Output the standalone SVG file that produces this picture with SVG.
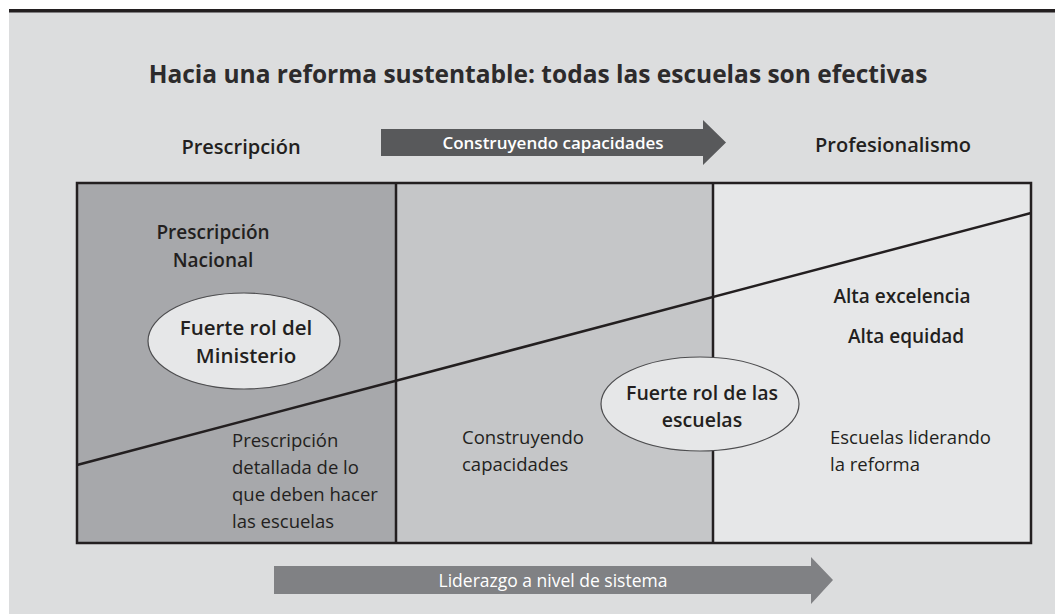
<svg xmlns="http://www.w3.org/2000/svg" width="1055" height="614" viewBox="0 0 1055 614">
<style>
text{font-family:"Open Sans","Liberation Sans",sans-serif;fill:#231f20}
.t{font-weight:700;font-size:24.5px;fill:#2d2b2c}
.h{font-weight:600;font-size:20px}
.n{font-weight:600;font-size:19px}
.e{font-weight:600;font-size:20.5px}
.r{font-size:18.5px}
.w{fill:#ffffff;font-weight:600;font-size:17px}
.ell{fill:#e6e7e8;stroke:#4d4d4f;stroke-width:1.2}
.line{stroke:#231f20;stroke-width:2.5;fill:none}
</style>
<rect x="0" y="0" width="1055" height="614" fill="#ffffff"/>
<rect x="9" y="12" width="1046" height="602" fill="#dcddde"/>
<rect x="9" y="9" width="1046" height="3.5" fill="#231f20"/>
<g id="title"><text class="t" x="538" y="83" text-anchor="middle">Hacia una reforma sustentable: todas las escuelas son efectivas</text></g>
<g id="header-left"><text class="h" x="241" y="154" text-anchor="middle">Prescripción</text></g>
<g id="header-right"><text class="h" x="893" y="152" text-anchor="middle">Profesionalismo</text></g>
<g id="panels">
<rect x="77" y="183" width="319" height="360" fill="#a7a8ab"/>
<rect x="396" y="183" width="317" height="360" fill="#c5c6c8"/>
<rect x="713" y="183" width="318" height="360" fill="#e6e7e8"/>
</g>
<g id="connectors">
<line class="line" x1="77" y1="465" x2="1031" y2="213"/>
<polygon points="381,129 703,129 703,120 726,142.5 703,165 703,156 381,156" fill="#58595b"/>
<polygon points="274,566 811,566 811,557 833,580 811,604 811,594 274,594" fill="#808184"/>
</g>
<g id="frame">
<rect class="line" x="77" y="183" width="954" height="360"/>
<line class="line" x1="396" y1="183" x2="396" y2="543"/>
<line class="line" x1="713" y1="183" x2="713" y2="543"/>
</g>
<g id="arrow-top-label"><text class="w" x="553" y="149" text-anchor="middle">Construyendo capacidades</text></g>
<g id="arrow-bottom-label"><text class="w" x="553" y="587" text-anchor="middle" style="font-weight:400;font-size:17.5px">Liderazgo a nivel de sistema</text></g>
<g id="prescripcion-nacional"><text class="n" x="213" y="239" text-anchor="middle">Prescripción</text><text class="n" x="213" y="267" text-anchor="middle">Nacional</text></g>
<g id="fuerte-ministerio"><ellipse class="ell" cx="244" cy="341" rx="96" ry="48"/><text class="e" x="246" y="335" text-anchor="middle">Fuerte rol del</text><text class="e" x="246" y="363" text-anchor="middle">Ministerio</text></g>
<g id="prescripcion-detallada"><text class="r" x="232" y="447">Prescripción</text><text class="r" x="232" y="474">detallada de lo</text><text class="r" x="232" y="501">que deben hacer</text><text class="r" x="232" y="528">las escuelas</text></g>
<g id="construyendo"><text class="r" x="462" y="444">Construyendo</text><text class="r" x="462" y="471">capacidades</text></g>
<g id="fuerte-escuelas"><ellipse class="ell" cx="700" cy="404" rx="99" ry="47"/><text class="e" x="702" y="400" text-anchor="middle" style="font-size:19.5px">Fuerte rol de las</text><text class="e" x="702" y="427" text-anchor="middle" style="font-size:19.5px">escuelas</text></g>
<g id="alta"><text class="n" x="902" y="303" text-anchor="middle">Alta excelencia</text><text class="n" x="906" y="343" text-anchor="middle">Alta equidad</text></g>
<g id="escuelas-liderando"><text class="r" x="830" y="444">Escuelas liderando</text><text class="r" x="830" y="471">la reforma</text></g>
</svg>
